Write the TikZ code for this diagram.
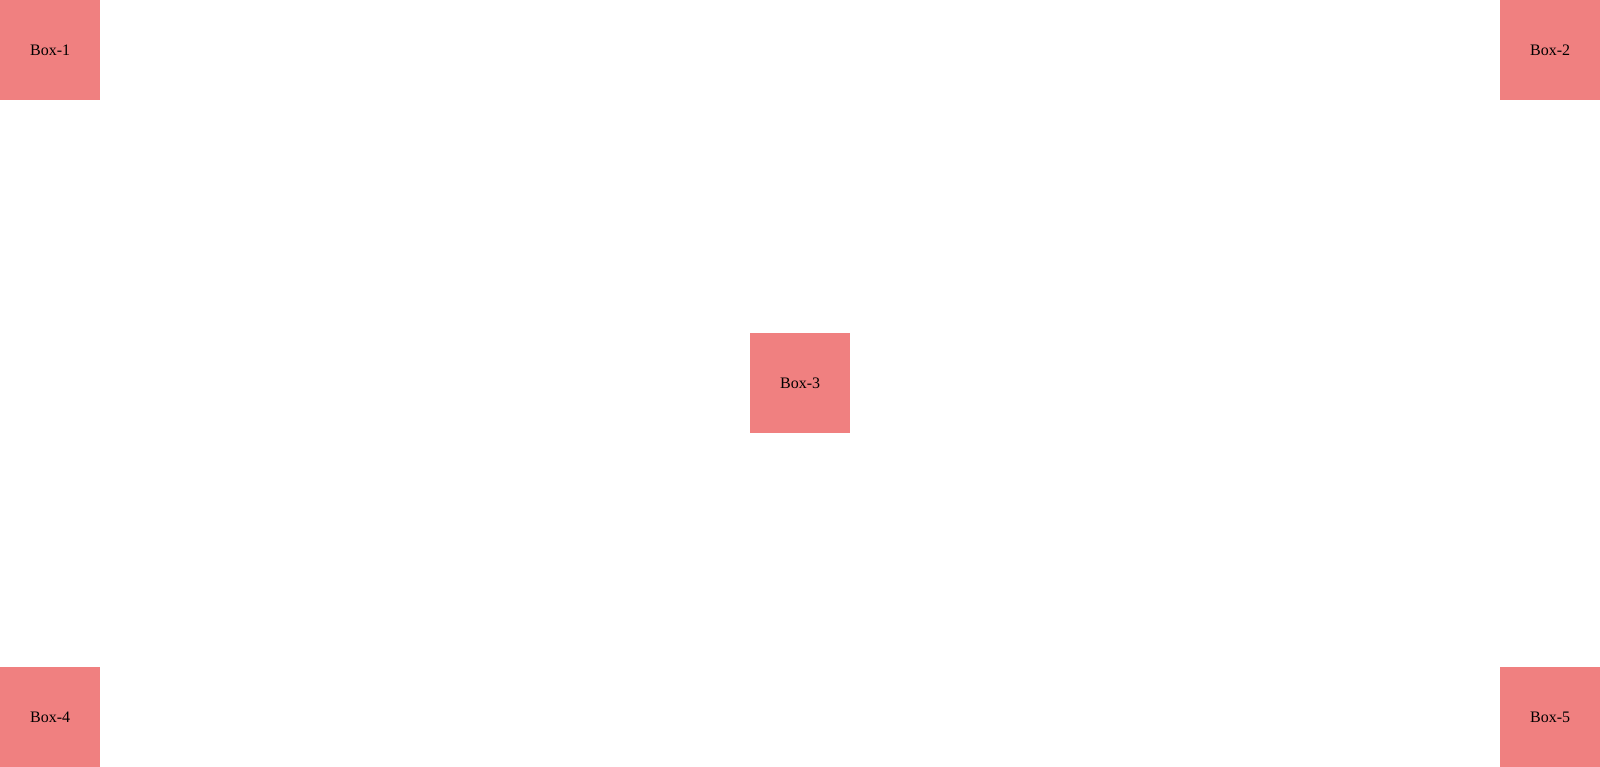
\documentclass[tikz,border=0pt]{standalone}
\usepackage{fontspec}
\setmainfont{Liberation Serif}
\definecolor{boxfill}{HTML}{F08080}
\begin{document}
\begin{tikzpicture}[x=1pt,y=-1pt,
  pbox/.style={fill=boxfill,draw=none,minimum width=100pt,minimum height=100pt,inner sep=0pt,anchor=north west,font=\fontsize{16}{19}\selectfont}]
\useasboundingbox[fill=white] (0,0) rectangle (1600,767);
\node[pbox] (b1) at (0,0) {Box-1};
\node[pbox] (b2) at (1500,0) {Box-2};
\node[pbox] (b3) at (750,333) {Box-3};
\node[pbox] (b4) at (0,667) {Box-4};
\node[pbox] (b5) at (1500,667) {Box-5};
\end{tikzpicture}
\end{document}
